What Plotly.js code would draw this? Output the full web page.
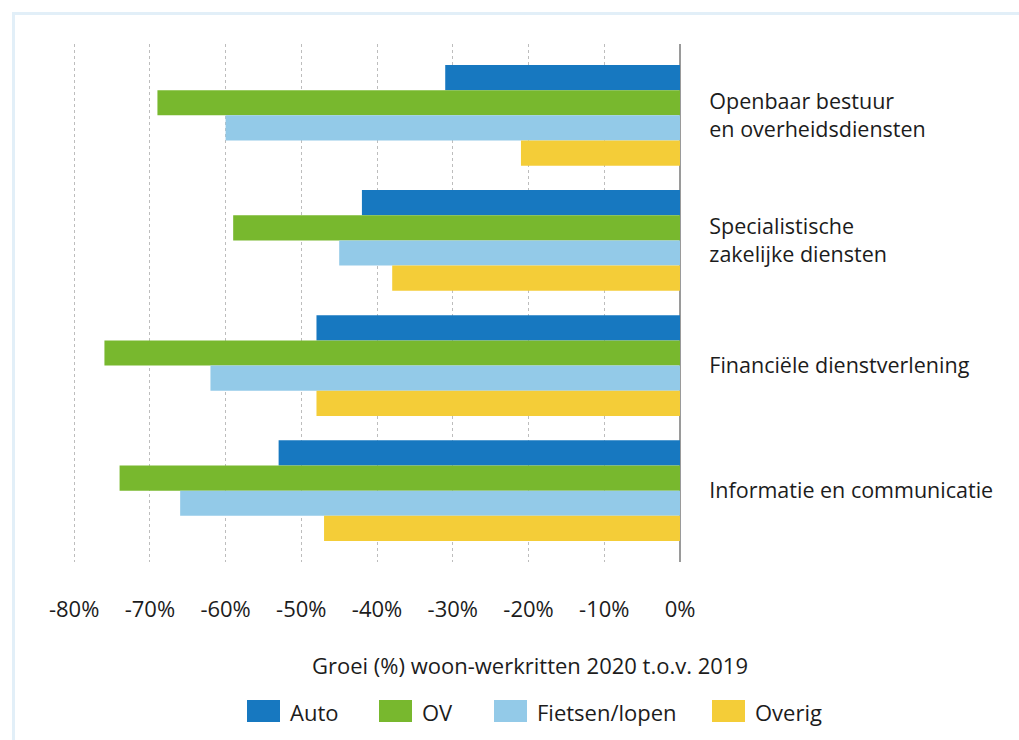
<!DOCTYPE html>
<html>
<head>
<meta charset="utf-8">
<script src="https://cdn.plot.ly/plotly-3.0.1.min.js"></script>
<style>
  html, body { margin: 0; padding: 0; background: #ffffff; }
  #wrap { position: relative; width: 1019px; height: 740px; }
  #chart { position: absolute; left: 0; top: 0; width: 1019px; height: 740px; }
  #frame { position: absolute; left: 12px; top: 12px; right: -10px; bottom: -10px;
           border-left: 3px solid #e2eff8; border-top: 3px solid #e2eff8; pointer-events: none; }
</style>
</head>
<body>
<div id="wrap">
  <div id="chart"></div>
  <div id="frame"></div>
</div>
<script>
// Data
const categories = [
  'Openbaar bestuur<br>en overheidsdiensten',
  'Specialistische<br>zakelijke diensten',
  'Financiële dienstverlening',
  'Informatie en communicatie'
];
const seriesNames = ['Auto', 'OV', 'Fietsen/lopen', 'Overig'];
const auto    = [-31, -42, -48, -53];
const ov      = [-69, -59, -76, -74];
const fietsen = [-60, -45, -62, -66];
const overig  = [-21, -38, -48, -47];
const tickVals = [-80, -70, -60, -50, -40, -30, -20, -10, 0];
const tickText = ['-80%', '-70%', '-60%', '-50%', '-40%', '-30%', '-20%', '-10%', '0%'];
const xTitle = 'Groei (%) woon-werkritten 2020 t.o.v. 2019';

const colors = ['#1778c0', '#78b82e', '#93cae8', '#f4cd38'];
const values = [auto, ov, fietsen, overig];

const FONT = 'Open Sans, Noto Sans, sans-serif';
const TXT = '#1c1c1c';

const traces = values.map((v, i) => ({
  type: 'bar',
  orientation: 'h',
  name: seriesNames[i],
  x: v,
  y: categories,
  marker: { color: colors[i], line: { width: 0 } },
  showlegend: false,
  hoverinfo: 'x+name'
}));

// plot area in pixels: left 73, right 680, top 44, bottom 562
const L = 73, R = 680, T = 44, B = 562;
const px = x => (x - L) / (R - L);
const py = y => (B - y) / (B - T);

// custom legend (large swatches as in the reference)
const legendBoxX = [247, 379, 494, 712];
const shapes = [];
const annotations = [];
seriesNames.forEach((n, i) => {
  shapes.push({
    type: 'rect', xref: 'paper', yref: 'paper',
    x0: px(legendBoxX[i]), x1: px(legendBoxX[i] + 33),
    y0: py(722), y1: py(700),
    fillcolor: colors[i], line: { width: 0 }, layer: 'above'
  });
  annotations.push({
    xref: 'paper', yref: 'paper',
    x: px(legendBoxX[i] + 41), y: py(712),
    xanchor: 'left', yanchor: 'middle',
    text: n, showarrow: false,
    font: { family: FONT, size: 22, color: TXT }
  });
});
annotations.push({
  xref: 'paper', yref: 'paper',
  x: px(530), y: py(665),
  xanchor: 'center', yanchor: 'middle',
  text: xTitle, showarrow: false,
  font: { family: FONT, size: 22, color: TXT }
});

const layout = {
  width: 1019, height: 740,
  margin: { l: L, r: 1019 - R, t: T, b: 740 - B },
  paper_bgcolor: 'rgba(0,0,0,0)',
  plot_bgcolor: 'rgba(0,0,0,0)',
  font: { family: FONT, size: 20, color: TXT },
  barmode: 'group',
  bargap: 0.195,
  bargroupgap: 0,
  showlegend: false,
  xaxis: {
    range: [-80.15, 0],
    tickvals: tickVals,
    ticktext: tickText,
    ticks: 'outside', ticklen: 28, tickcolor: 'rgba(0,0,0,0)',
    showgrid: true, gridcolor: '#bdbdbd', griddash: 'dot', gridwidth: 1,
    zeroline: true, zerolinecolor: '#9a9a9a', zerolinewidth: 2,
    showline: false,
    tickfont: { family: FONT, size: 22, color: TXT },
    fixedrange: true
  },
  yaxis: {
    type: 'category',
    side: 'right',
    range: [3.57, -0.57],
    ticks: 'outside', ticklen: 24, tickcolor: 'rgba(0,0,0,0)',
    showgrid: false, zeroline: false, showline: false,
    tickfont: { family: FONT, size: 21.5, color: TXT },
    fixedrange: true
  },
  shapes: shapes,
  annotations: annotations
};

Plotly.newPlot('chart', traces, layout, { displayModeBar: false, staticPlot: true });
</script>
</body>
</html>
